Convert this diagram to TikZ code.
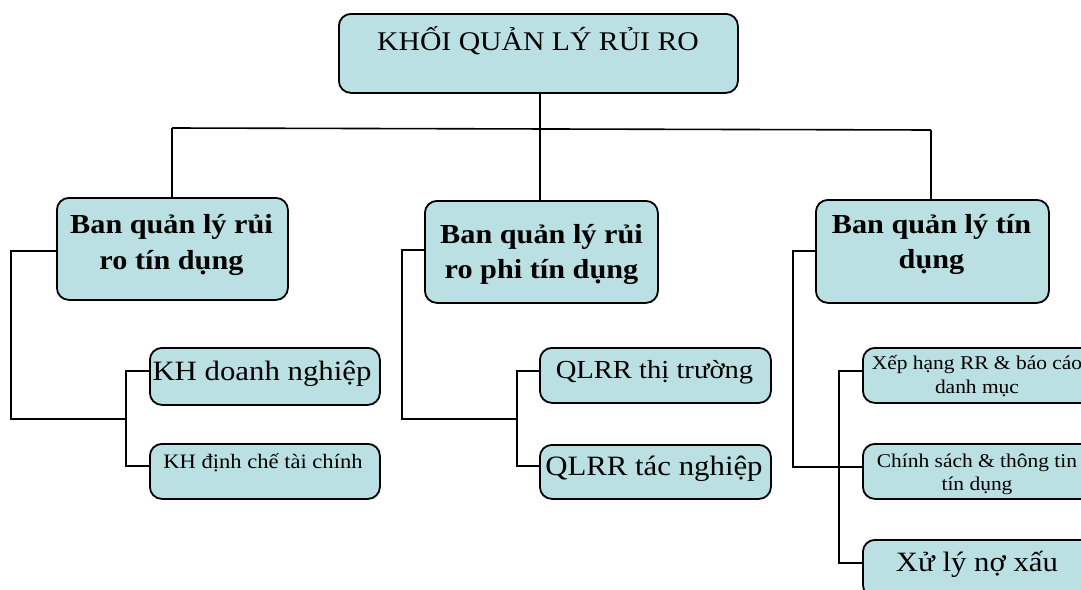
\documentclass[tikz,border=0pt]{standalone}
\usepackage{fontspec}
\setmainfont[FakeStretch=1.1]{Liberation Serif}
\begin{document}
\begin{tikzpicture}[x=1pt,y=-1pt,
  box/.style={draw=black, line width=1.8pt, fill=boxfill, rounded corners=12pt,
              anchor=north west, inner sep=0pt},
  link/.style={draw=black, line width=1.6pt},
  txt/.style={anchor=base, inner sep=0pt, text=black},
  head/.style={txt, font=\bfseries\fontsize{27.5}{32}\selectfont}]
\definecolor{boxfill}{RGB}{187,224,227}
\useasboundingbox (0,0) rectangle (1081,589);

% boxes
\node[box, minimum width=399pt, minimum height=79pt] (top) at (338,13) {};
\node[box, minimum width=231pt, minimum height=102pt] (b1) at (56,197) {};
\node[box, minimum width=233pt, minimum height=102pt] (b2) at (424,200) {};
\node[box, minimum width=233pt, minimum height=103pt] (b3) at (815,199) {};

\node[box, minimum width=230pt, minimum height=57pt] (c11) at (149,347) {};
\node[box, minimum width=230pt, minimum height=55pt] (c12) at (149,443) {};
\node[box, minimum width=231pt, minimum height=55pt] (c21) at (539,347) {};
\node[box, minimum width=231pt, minimum height=54pt] (c22) at (539,444) {};
\node[box, minimum width=231pt, minimum height=55pt] (c31) at (862,347) {};
\node[box, minimum width=231pt, minimum height=55pt] (c32) at (862,443) {};
\node[box, minimum width=231pt, minimum height=57pt] (c33) at (862,539) {};

% texts
\node[txt, font=\fontsize{27}{32}\selectfont] (ttop) at (538,50) {KHỐI QUẢN LÝ RỦI RO};

\node[head] (t1a) at (171.5,233) {Ban quản lý rủi};
\node[head] (t1b) at (171.5,269) {ro tín dụng};
\node[head] (t2a) at (541.5,243) {Ban quản lý rủi};
\node[head] (t2b) at (541.5,278) {ro phi tín dụng};
\node[head] (t3a) at (931.5,233) {Ban quản lý tín};
\node[head] (t3b) at (931.5,268) {dụng};

\node[txt, font=\fontsize{28}{32}\selectfont] (t11) at (262,380) {KH doanh nghiệp};
\node[txt, font=\fontsize{20.5}{24}\selectfont] (t12) at (263,468) {KH định chế tài chính};
\node[txt, font=\fontsize{26}{30}\selectfont] (t21) at (654.5,378) {QLRR thị trường};
\node[txt, font=\fontsize{28}{32}\selectfont] (t22) at (654,475) {QLRR tác nghiệp};
\node[txt, font=\fontsize{19.5}{23}\selectfont] (t31a) at (977,369) {Xếp hạng RR \& báo cáo};
\node[txt, font=\fontsize{19.5}{23}\selectfont] (t31b) at (977,393) {danh mục};
\node[txt, font=\fontsize{19.5}{23}\selectfont] (t32a) at (977,467) {Chính sách \& thông tin};
\node[txt, font=\fontsize{19.5}{23}\selectfont] (t32b) at (977,490) {tín dụng};
\node[txt, font=\fontsize{28}{32}\selectfont] (t33) at (977,571) {Xử lý nợ xấu};

% junction points of the tree
\coordinate (busL) at (172,128);
\coordinate (busM) at (540,129);
\coordinate (busR) at (931,130);
\coordinate (j1) at (126,419);
\coordinate (j2) at (517,419);
\coordinate (j3) at (839,467);

% top level
\draw[link] (top.south -| busM) -- (b2.north -| busM);
\draw[link] (busL) -- (busR);
\draw[link] (busL) -- (b1.north -| busL);
\draw[link] (busR) -- (b3.north -| busR);

% first branch
\draw[link] (b1.west |- 0,251) -| (11,419) -- (j1);
\draw[link] (c11.west |- 0,371) -| (j1 |- 0,371) -- (j1 |- 0,466) -- (c12.west |- 0,466);

% second branch
\draw[link] (b2.west |- 0,250) -| (402,419) -- (j2);
\draw[link] (c21.west |- 0,371) -| (j2 |- 0,371) -- (j2 |- 0,466) -- (c22.west |- 0,466);

% third branch
\draw[link] (b3.west |- 0,251) -| (793,467) -- (c32.west |- 0,467);
\draw[link] (c31.west |- 0,371) -| (j3 |- 0,371) -- (j3 |- 0,563) -- (c33.west |- 0,563);
\end{tikzpicture}
\end{document}
